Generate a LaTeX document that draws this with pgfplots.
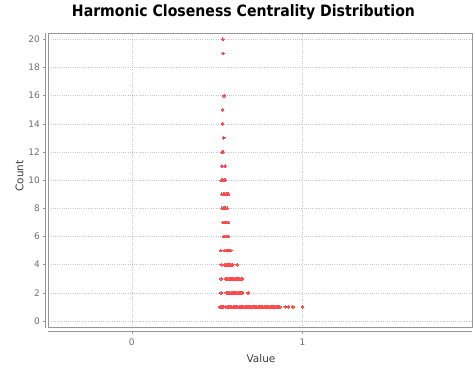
\documentclass[border=0pt]{standalone}
\usepackage{fontspec}
\setmainfont{DejaVu Sans}
\newfontfamily\titlefont{DejaVu Sans Condensed}
\usepackage{pgfplots}
\pgfplotsset{compat=1.18}
\definecolor{dotred}{RGB}{255,75,75}
\definecolor{framec}{RGB}{150,150,150}
\definecolor{gridc}{RGB}{200,200,200}
\definecolor{tickc}{RGB}{110,110,110}
\definecolor{labc}{RGB}{60,60,60}
\pgfplotstableread{
x y
0.533 20
0.535 19
0.540 16
0.531 15
0.531 14
0.538 13
0.530 12
0.535 12
0.527 11
0.546 11
0.524 10
0.532 10
0.540 10
0.548 10
0.527 9
0.536 9
0.545 9
0.552 9
0.560 9
0.566 9
0.527 8
0.535 8
0.543 8
0.551 8
0.558 8
0.533 7
0.541 7
0.549 7
0.557 7
0.565 7
0.537 6
0.545 6
0.553 6
0.561 6
0.566 6
0.521 5
0.545 5
0.552 5
0.559 5
0.566 5
0.573 5
0.580 5
0.523 4
0.545 4
0.552 4
0.559 4
0.566 4
0.573 4
0.580 4
0.587 4
0.591 4
0.617 4
0.523 3
0.549 3
0.556 3
0.563 3
0.570 3
0.577 3
0.584 3
0.591 3
0.598 3
0.605 3
0.612 3
0.619 3
0.626 3
0.633 3
0.640 3
0.648 3
0.523 2
0.553 2
0.560 2
0.567 2
0.574 2
0.581 2
0.588 2
0.595 2
0.602 2
0.609 2
0.616 2
0.623 2
0.630 2
0.637 2
0.644 2
0.648 2
0.681 2
0.517 1
0.524 1
0.531 1
0.537 1
0.551 1
0.558 1
0.565 1
0.572 1
0.579 1
0.586 1
0.593 1
0.600 1
0.607 1
0.614 1
0.621 1
0.628 1
0.635 1
0.642 1
0.649 1
0.656 1
0.663 1
0.670 1
0.677 1
0.684 1
0.691 1
0.698 1
0.705 1
0.712 1
0.719 1
0.726 1
0.733 1
0.740 1
0.747 1
0.754 1
0.761 1
0.768 1
0.775 1
0.782 1
0.789 1
0.796 1
0.803 1
0.810 1
0.817 1
0.824 1
0.831 1
0.838 1
0.845 1
0.852 1
0.859 1
0.866 1
0.899 1
0.917 1
0.943 1
1.000 1
}\hcdata
\begin{document}
\begin{tikzpicture}[x=1pt,y=1pt]
\begin{axis}[at={(48.3pt,40.3pt)}, anchor=south west, scale only axis,
  width=424pt, height=294.7pt,
  xmin=-0.489, xmax=1.994, ymin=-0.476, ymax=20.45,
  xtick={0,1}, ytick={0,2,...,20},
  grid=major, grid style={gridc, dash pattern=on 1pt off 1.2pt, line width=0.6pt},
  axis line style={draw=framec, line width=0.9pt},
  major tick length=0pt,
  tick label style={font=\fontsize{9}{10}\selectfont, text=tickc},
  yticklabel style={xshift=-5pt},
  xticklabel style={yshift=-8pt},
  clip=false,
  /pgf/number format/assume math mode=true,
]
\addplot[only marks, mark=*, mark size=1.4pt, color=dotred,
  mark options={fill=dotred, draw=dotred, line width=0pt}] table[x=x,y=y] {\hcdata};
\draw[framec, line width=0.8pt] ([xshift=-3.2pt]rel axis cs:0,0) -- ([xshift=-3.2pt]rel axis cs:0,1);
\draw[framec, line width=0.8pt] ([yshift=-3.4pt]rel axis cs:0,0) -- ([yshift=-3.4pt]rel axis cs:1,0);
\pgfplotsinvokeforeach{0,2,4,6,8,10,12,14,16,18,20}{
  \draw[framec, line width=0.6pt] ([xshift=-3.2pt]axis cs:-0.489,#1) -- ([xshift=-5.7pt]axis cs:-0.489,#1);
}
\pgfplotsinvokeforeach{0,1}{
  \draw[framec, line width=0.6pt] ([yshift=-3.4pt]axis cs:#1,-0.476) -- ([yshift=-5.9pt]axis cs:#1,-0.476);
}
\end{axis}
\node[font=\fontsize{10.5}{12}\selectfont, text=labc] at (261pt,9pt) {Value};
\node[font=\fontsize{10.5}{12}\selectfont, text=labc, rotate=90] at (19.5pt,192pt) {Count};
\node[inner sep=0pt] at (243.5pt,356pt) {\resizebox{343pt}{!}{\titlefont\bfseries Harmonic Closeness Centrality Distribution}};
\pgfresetboundingbox
\useasboundingbox (0,0) rectangle (473pt,368pt);
\end{tikzpicture}
\end{document}
